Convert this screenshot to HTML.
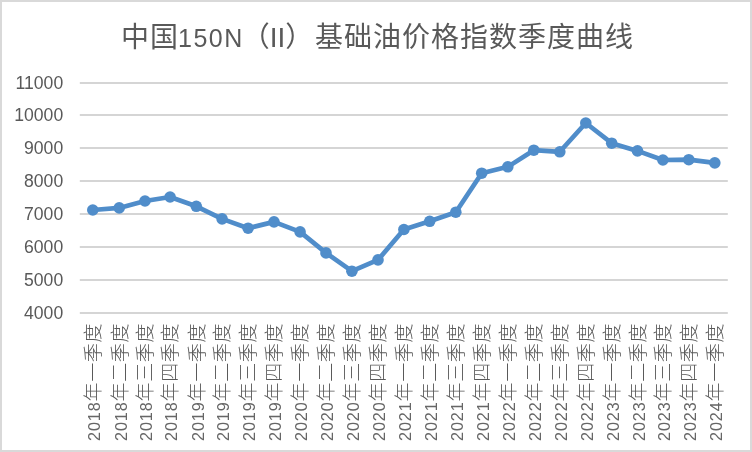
<!DOCTYPE html>
<html><head><meta charset="utf-8"><style>
html,body{margin:0;padding:0;background:#fff;}
body{width:752px;height:452px;overflow:hidden;}
svg{display:block;}
.g line{stroke:#d5d5d5;stroke-width:2;}
.yl text{font-family:"Liberation Sans","Noto Sans CJK SC",sans-serif;font-size:17.6px;fill:#595959;text-anchor:end;}
.xl text{font-family:"Liberation Serif","Noto Sans CJK SC",serif;fill:#595959;}
.xl .d{font-family:"Liberation Sans",sans-serif;font-size:16.2px;letter-spacing:0.9px;fill:#666;}
.xl .c{font-family:"Noto Sans CJK SC",sans-serif;font-size:19px;letter-spacing:0.6px;font-weight:300;}
.t{font-family:"Liberation Sans","Noto Sans CJK SC",sans-serif;font-size:28px;letter-spacing:1px;fill:#595959;}
.lat{font-size:25px;letter-spacing:1.5px;}
</style></head><body>
<svg width="752" height="452" viewBox="0 0 752 452">
<rect x="1" y="1" width="750" height="450" fill="#fff" stroke="#d9d9d9" stroke-width="2"/>
<text y="46.5" class="t"><tspan x="121">中国</tspan><tspan x="178" class="lat">150N</tspan><tspan x="241.8" letter-spacing="0">（II）</tspan><tspan x="314.95">基础油价格指数季度曲线</tspan></text>
<g class="g">
<line x1="79.8" x2="727.8" y1="83.00" y2="83.00"/>
<line x1="79.8" x2="727.8" y1="115.00" y2="115.00"/>
<line x1="79.8" x2="727.8" y1="148.00" y2="148.00"/>
<line x1="79.8" x2="727.8" y1="181.00" y2="181.00"/>
<line x1="79.8" x2="727.8" y1="214.00" y2="214.00"/>
<line x1="79.8" x2="727.8" y1="247.00" y2="247.00"/>
<line x1="79.8" x2="727.8" y1="280.00" y2="280.00"/>
<line x1="79.8" x2="727.8" y1="313.00" y2="313.00"/>
</g>
<g class="yl">
<text x="63.2" y="88.80">11000</text>
<text x="63.2" y="120.80">10000</text>
<text x="63.2" y="153.80">9000</text>
<text x="63.2" y="186.80">8000</text>
<text x="63.2" y="219.80">7000</text>
<text x="63.2" y="252.80">6000</text>
<text x="63.2" y="285.80">5000</text>
<text x="63.2" y="318.80">4000</text>
</g>
<polyline points="92.8,210 119.2,207.9 145.0,201 170.1,197 196.3,206.3 222.1,218.9 248.1,228.2 274.0,221.9 300.1,231.9 326.0,252.9 351.9,271.2 378.0,259.9 403.9,229.5 429.7,221.3 455.8,212.2 481.7,173.2 507.8,166.8 533.8,150.2 559.8,151.8 585.8,123 611.7,143.2 637.5,150.9 662.9,160 688.8,159.7 714.8,162.9" fill="none" stroke="#508dca" stroke-width="4.7" stroke-linejoin="round" stroke-linecap="round"/>
<g fill="#508dca">
<circle cx="92.8" cy="210" r="5.8"/>
<circle cx="119.2" cy="207.9" r="5.8"/>
<circle cx="145.0" cy="201" r="5.8"/>
<circle cx="170.1" cy="197" r="5.8"/>
<circle cx="196.3" cy="206.3" r="5.8"/>
<circle cx="222.1" cy="218.9" r="5.8"/>
<circle cx="248.1" cy="228.2" r="5.8"/>
<circle cx="274.0" cy="221.9" r="5.8"/>
<circle cx="300.1" cy="231.9" r="5.8"/>
<circle cx="326.0" cy="252.9" r="5.8"/>
<circle cx="351.9" cy="271.2" r="5.8"/>
<circle cx="378.0" cy="259.9" r="5.8"/>
<circle cx="403.9" cy="229.5" r="5.8"/>
<circle cx="429.7" cy="221.3" r="5.8"/>
<circle cx="455.8" cy="212.2" r="5.8"/>
<circle cx="481.7" cy="173.2" r="5.8"/>
<circle cx="507.8" cy="166.8" r="5.8"/>
<circle cx="533.8" cy="150.2" r="5.8"/>
<circle cx="559.8" cy="151.8" r="5.8"/>
<circle cx="585.8" cy="123" r="5.8"/>
<circle cx="611.7" cy="143.2" r="5.8"/>
<circle cx="637.5" cy="150.9" r="5.8"/>
<circle cx="662.9" cy="160" r="5.8"/>
<circle cx="688.8" cy="159.7" r="5.8"/>
<circle cx="714.8" cy="162.9" r="5.8"/>
</g>
<g class="xl">
<text transform="translate(100.10,441) rotate(-90)"><tspan class="d">2018</tspan><tspan class="c">年一季度</tspan></text>
<text transform="translate(126.50,441) rotate(-90)"><tspan class="d">2018</tspan><tspan class="c">年二季度</tspan></text>
<text transform="translate(152.30,441) rotate(-90)"><tspan class="d">2018</tspan><tspan class="c">年三季度</tspan></text>
<text transform="translate(177.40,441) rotate(-90)"><tspan class="d">2018</tspan><tspan class="c">年四季度</tspan></text>
<text transform="translate(203.60,441) rotate(-90)"><tspan class="d">2019</tspan><tspan class="c">年一季度</tspan></text>
<text transform="translate(229.40,441) rotate(-90)"><tspan class="d">2019</tspan><tspan class="c">年二季度</tspan></text>
<text transform="translate(255.40,441) rotate(-90)"><tspan class="d">2019</tspan><tspan class="c">年三季度</tspan></text>
<text transform="translate(281.30,441) rotate(-90)"><tspan class="d">2019</tspan><tspan class="c">年四季度</tspan></text>
<text transform="translate(307.40,441) rotate(-90)"><tspan class="d">2020</tspan><tspan class="c">年一季度</tspan></text>
<text transform="translate(333.30,441) rotate(-90)"><tspan class="d">2020</tspan><tspan class="c">年二季度</tspan></text>
<text transform="translate(359.20,441) rotate(-90)"><tspan class="d">2020</tspan><tspan class="c">年三季度</tspan></text>
<text transform="translate(385.30,441) rotate(-90)"><tspan class="d">2020</tspan><tspan class="c">年四季度</tspan></text>
<text transform="translate(411.20,441) rotate(-90)"><tspan class="d">2021</tspan><tspan class="c">年一季度</tspan></text>
<text transform="translate(437.00,441) rotate(-90)"><tspan class="d">2021</tspan><tspan class="c">年二季度</tspan></text>
<text transform="translate(463.10,441) rotate(-90)"><tspan class="d">2021</tspan><tspan class="c">年三季度</tspan></text>
<text transform="translate(489.00,441) rotate(-90)"><tspan class="d">2021</tspan><tspan class="c">年四季度</tspan></text>
<text transform="translate(515.10,441) rotate(-90)"><tspan class="d">2022</tspan><tspan class="c">年一季度</tspan></text>
<text transform="translate(541.10,441) rotate(-90)"><tspan class="d">2022</tspan><tspan class="c">年二季度</tspan></text>
<text transform="translate(567.10,441) rotate(-90)"><tspan class="d">2022</tspan><tspan class="c">年三季度</tspan></text>
<text transform="translate(593.10,441) rotate(-90)"><tspan class="d">2022</tspan><tspan class="c">年四季度</tspan></text>
<text transform="translate(619.00,441) rotate(-90)"><tspan class="d">2023</tspan><tspan class="c">年一季度</tspan></text>
<text transform="translate(644.80,441) rotate(-90)"><tspan class="d">2023</tspan><tspan class="c">年二季度</tspan></text>
<text transform="translate(670.20,441) rotate(-90)"><tspan class="d">2023</tspan><tspan class="c">年三季度</tspan></text>
<text transform="translate(696.10,441) rotate(-90)"><tspan class="d">2023</tspan><tspan class="c">年四季度</tspan></text>
<text transform="translate(722.10,441) rotate(-90)"><tspan class="d">2024</tspan><tspan class="c">年一季度</tspan></text>
</g>
</svg>
</body></html>
